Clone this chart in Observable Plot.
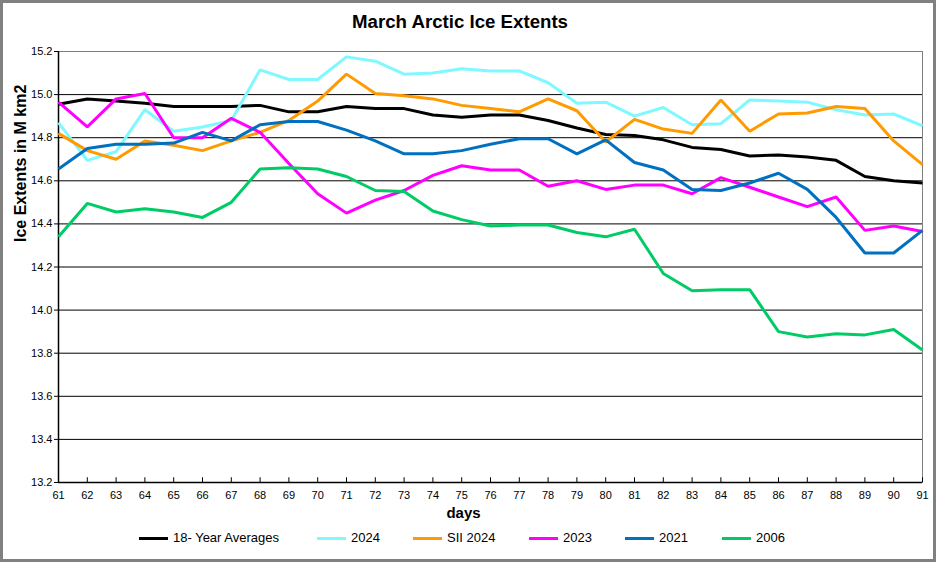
<!DOCTYPE html>
<html>
<head>
<meta charset="utf-8">
<script src="https://cdn.jsdelivr.net/npm/d3@7"></script>
<script src="https://cdn.jsdelivr.net/npm/@observablehq/plot@0.6"></script>
<style>
  html, body { margin: 0; padding: 0; background: #fff; }
  #wrap { position: relative; width: 936px; height: 562px; background: #fff; font-family: "Liberation Sans", Arial, sans-serif; overflow: hidden; }
  #title { position: absolute; left: 0; width: 920px; top: 11px; line-height: 22px; text-align: center; font-weight: bold; font-size: 18.67px; color: #000; }
  #chart { position: absolute; left: 0; top: 0; }
  #legend .item { position: absolute; top: 530px; height: 16px; font-size: 13px; line-height: 16px; color: #000; white-space: nowrap; }
  #legend .sw { position: absolute; top: 6.5px; left: 0; height: 3.5px; width: 29px; }
  #legend .lab { position: absolute; left: 34px; top: 0; }
  #border { position: absolute; left: 0; top: 0; width: 936px; height: 562px; box-sizing: border-box; border: 3px solid #808080; pointer-events: none; }
</style>
</head>
<body>
<div id="wrap">
  <div id="chart"></div>
  <div id="title">March Arctic Ice Extents</div>
  <div id="legend"></div>
  <div id="border"></div>
</div>
<script>
const days = d3.range(61, 92);
const yTicks = [13.2, 13.4, 13.6, 13.8, 14.0, 14.2, 14.4, 14.6, 14.8, 15.0, 15.2];

const avg18 = [14.955, 14.98, 14.97, 14.96, 14.945, 14.945, 14.945, 14.95, 14.92, 14.92, 14.945, 14.935, 14.935, 14.905, 14.895, 14.905, 14.905, 14.88, 14.845, 14.815, 14.81, 14.79, 14.755, 14.745, 14.715, 14.72, 14.71, 14.695, 14.62, 14.60, 14.59];
const y2024 = [14.87, 14.695, 14.735, 14.93, 14.83, 14.85, 14.88, 15.115, 15.07, 15.07, 15.175, 15.155, 15.095, 15.10, 15.12, 15.11, 15.11, 15.055, 14.96, 14.965, 14.90, 14.94, 14.86, 14.865, 14.975, 14.97, 14.965, 14.93, 14.905, 14.91, 14.855];
const sii2024 = [14.82, 14.74, 14.70, 14.785, 14.765, 14.74, 14.785, 14.825, 14.88, 14.97, 15.095, 15.005, 14.995, 14.98, 14.95, 14.935, 14.92, 14.98, 14.925, 14.78, 14.885, 14.84, 14.82, 14.975, 14.83, 14.91, 14.915, 14.945, 14.935, 14.785, 14.675];
const y2023 = [14.965, 14.85, 14.98, 15.005, 14.80, 14.80, 14.89, 14.825, 14.68, 14.54, 14.45, 14.51, 14.555, 14.625, 14.67, 14.65, 14.65, 14.575, 14.60, 14.56, 14.58, 14.58, 14.54, 14.615, 14.57, 14.525, 14.48, 14.525, 14.37, 14.39, 14.365];
const y2021 = [14.655, 14.75, 14.77, 14.77, 14.775, 14.825, 14.785, 14.86, 14.875, 14.875, 14.835, 14.785, 14.725, 14.725, 14.74, 14.77, 14.795, 14.795, 14.725, 14.79, 14.685, 14.65, 14.56, 14.555, 14.59, 14.635, 14.56, 14.43, 14.265, 14.265, 14.37];
const y2006 = [14.34, 14.495, 14.455, 14.47, 14.455, 14.43, 14.50, 14.655, 14.66, 14.655, 14.62, 14.555, 14.55, 14.46, 14.42, 14.39, 14.395, 14.395, 14.36, 14.34, 14.375, 14.17, 14.09, 14.095, 14.095, 13.90, 13.875, 13.89, 13.885, 13.91, 13.815];

const seriesNames = ["18- Year Averages", "2024", "SII 2024", "2023", "2021", "2006"];
const seriesValues = [avg18, y2024, sii2024, y2023, y2021, y2006];
const seriesColors = ["#000000", "#80F8FF", "#FF9A00", "#FF00FF", "#0070C0", "#00CC66"];
const legendX = [139, 317, 413, 529, 625, 722];

const rows = [];
seriesNames.forEach((name, i) => {
  seriesValues[i].forEach((v, j) => rows.push({series: name, day: days[j], value: v}));
});

const lineMarks = seriesNames.map((name, i) =>
  Plot.line(rows.filter(r => r.series === name), {x: "day", y: "value", stroke: seriesColors[i], strokeWidth: 3, strokeLinejoin: "miter", strokeLinecap: "butt"})
);

const chart = Plot.plot({
  width: 936,
  height: 562,
  marginLeft: 58,
  marginRight: 14,
  marginTop: 51,
  marginBottom: 80,
  style: {fontFamily: "'Liberation Sans', Arial, sans-serif", fontSize: "11px", background: "transparent", color: "#000"},
  x: {domain: [61, 91]},
  y: {domain: [13.2, 15.2]},
  marks: [
    Plot.ruleY(yTicks.filter(v => v > 13.25 && v < 15.15), {stroke: "#000", strokeWidth: 1}),
    Plot.frame({stroke: "#808080", strokeWidth: 1}),
    Plot.ruleX(days, {y1: 13.2, y2: 13.222, stroke: "#000", strokeWidth: 1}),
    Plot.ruleX([61], {stroke: "#000", strokeWidth: 1.5}),
    Plot.ruleY([13.2], {stroke: "#000", strokeWidth: 1.5}),
    Plot.axisY({ticks: yTicks, tickFormat: d => d.toFixed(1), tickSize: 4, tickPadding: 2, label: null, fontSize: 11}),
    Plot.axisX({ticks: days, tickFormat: d => String(d), tickSize: 0, tickPadding: 9, label: null, fontSize: 11}),
    ...lineMarks,
    Plot.text(["Ice Extents in M km2"], {frameAnchor: "left", dx: -38, dy: -25, rotate: -90, fontWeight: "bold", fontSize: 16, fill: "#000"}),
    Plot.text(["days"], {frameAnchor: "bottom", dx: -27, dy: 35, fontWeight: "bold", fontSize: 15, fill: "#000"})
  ]
});
document.getElementById("chart").appendChild(chart);

const legend = document.getElementById("legend");
seriesNames.forEach((name, i) => {
  const item = document.createElement("div");
  item.className = "item";
  item.style.left = legendX[i] + "px";
  const sw = document.createElement("div");
  sw.className = "sw";
  sw.style.background = seriesColors[i];
  const lab = document.createElement("span");
  lab.className = "lab";
  lab.textContent = name;
  item.appendChild(sw);
  item.appendChild(lab);
  legend.appendChild(item);
});
</script>
</body>
</html>
